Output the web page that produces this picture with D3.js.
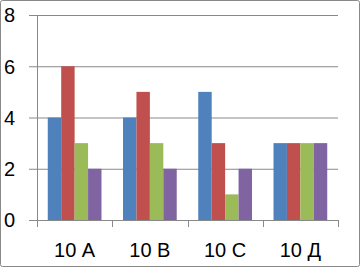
<!DOCTYPE html>
<html><head><meta charset="utf-8">
<script src="https://cdn.jsdelivr.net/npm/d3@7"></script>
<style>
html,body{margin:0;padding:0;background:#fff;}
svg{display:block;}
text{font-family:"Liberation Sans",Arial,sans-serif;fill:#000;}
</style></head>
<body><svg id="c" width="361" height="268"></svg>
<script>
const categories = ["10 А", "10 В", "10 С", "10 Д"];
const series1 = [4, 4, 5, 3];
const series2 = [6, 5, 3, 3];
const series3 = [3, 3, 1, 3];
const series4 = [2, 2, 2, 3];
const yTicks = [0, 2, 4, 6, 8];
const colors = ["#4F81BD", "#C0504D", "#9BBB59", "#8064A2"];
const seriesList = [series1, series2, series3, series4];

const svg = d3.select("#c");
const W = 361, H = 268;
const m = {left: 37, right: 23, top: 15, bottom: 48};
const x0 = d3.scaleBand().domain(categories).range([m.left, W - m.right]).paddingInner(0).paddingOuter(0);
const y = d3.scaleLinear().domain([0, 8]).range([H - m.bottom, m.top]);
const inner = 0.714;
const x1 = d3.scaleBand().domain(d3.range(seriesList.length))
  .range([x0.bandwidth() * (1 - inner) / 2, x0.bandwidth() * (1 + inner) / 2]).padding(0);

svg.append("rect").attr("x", 0.5).attr("y", 0.5).attr("width", W - 2).attr("height", H - 2)
  .attr("rx", 2).attr("fill", "#fff").attr("stroke", "#898989");

const fs = 20;
const gAxisY = svg.append("g").attr("transform", `translate(${m.left},0)`)
  .call(d3.axisLeft(y).tickValues(yTicks).tickSize(8).tickPadding(14).tickFormat(d3.format("d")));
gAxisY.select(".domain").remove();
gAxisY.selectAll(".tick line").attr("x2", (W - m.right - m.left)).attr("x1", -8).attr("stroke", "#898989");
gAxisY.selectAll(".tick text").attr("font-size", fs).attr("font-family", "Liberation Sans, Arial, sans-serif").attr("fill", "#000").attr("dy", "0.34em");

const groups = svg.append("g").selectAll("g").data(categories).join("g")
  .attr("transform", d => `translate(${x0(d)},0)`);
groups.selectAll("rect").data((d, i) => seriesList.map((s, j) => ({j, v: s[i]}))).join("rect")
  .attr("x", d => x1(d.j)).attr("width", x1.bandwidth())
  .attr("y", d => y(d.v)).attr("height", d => y(0) - y(d.v))
  .attr("fill", d => colors[d.j]);

svg.append("line").attr("x1", m.left + 0.5).attr("x2", m.left + 0.5).attr("y1", m.top).attr("y2", y(0) + 7).attr("stroke", "#898989");

const gx = svg.append("g").attr("transform", `translate(0,${y(0)})`)
  .call(d3.axisBottom(x0).tickSize(0).tickPadding(24));
gx.select(".domain").attr("stroke", "#898989");
gx.selectAll(".tick text").attr("font-size", fs).attr("font-family", "Liberation Sans, Arial, sans-serif").attr("fill", "#000").attr("dy", "0.66em");
const bounds = categories.map(c => x0(c)).concat([x0(categories[categories.length - 1]) + x0.bandwidth()]);
svg.append("g").selectAll("line").data(bounds).join("line")
  .attr("x1", d => Math.round(d) + 0.5).attr("x2", d => Math.round(d) + 0.5)
  .attr("y1", y(0)).attr("y2", y(0) + 7).attr("stroke", "#898989");
</script></body></html>
